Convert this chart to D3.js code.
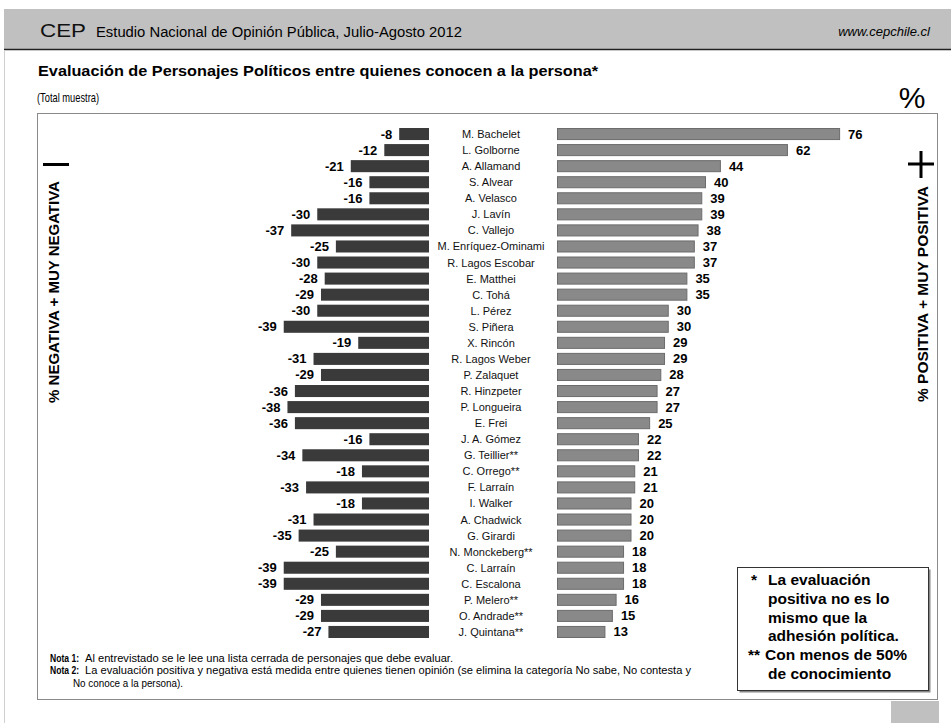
<!DOCTYPE html>
<html>
<head>
<meta charset="utf-8">
<script src="https://cdn.jsdelivr.net/npm/d3@7"></script>
<style>
  body { margin: 0; background: #fff; }
  text { font-family: "Liberation Sans", Arial, sans-serif; }
</style>
</head>
<body>
<div id="chart"></div>
<script>
// data
var names = ["M. Bachelet", "L. Golborne", "A. Allamand", "S. Alvear", "A. Velasco", "J. Lavín",
    "C. Vallejo", "M. Enríquez-Ominami", "R. Lagos Escobar", "E. Matthei", "C. Tohá", "L. Pérez",
    "S. Piñera", "X. Rincón", "R. Lagos Weber", "P. Zalaquet", "R. Hinzpeter", "P. Longueira",
    "E. Frei", "J. A. Gómez", "G. Teillier**", "C. Orrego**", "F. Larraín", "I. Walker",
    "A. Chadwick", "G. Girardi", "N. Monckeberg**", "C. Larraín", "C. Escalona", "P. Melero**",
    "O. Andrade**", "J. Quintana**"];
var negativa = [-8, -12, -21, -16, -16, -30, -37, -25, -30, -28, -29, -30, -39, -19, -31, -29,
    -36, -38, -36, -16, -34, -18, -33, -18, -31, -35, -25, -39, -39, -29, -29, -27];
var positiva = [76, 62, 44, 40, 39, 39, 38, 37, 37, 35, 35, 30, 30, 29, 29, 28, 27, 27, 25, 22,
    22, 21, 21, 20, 20, 20, 18, 18, 18, 16, 15, 13];

var notas = [
    ["Nota 1:", "Al entrevistado se le lee una lista cerrada de personajes que debe evaluar."],
    ["Nota 2:", "La evaluación positiva y negativa está medida entre quienes tienen opinión (se elimina la categoría No sabe, No contesta y"],
    ["", "No conoce a la persona)."]
];
var leyenda = [
    ["*", "La evaluación"], ["", "positiva no es lo"], ["", "mismo que la"],
    ["", "adhesión política."], ["**", "Con menos de 50%"], ["", "de conocimiento"]
];

var width = 951, height = 723;

var data = names.map(function (n, i) {
    return { name: n, neg: negativa[i], pos: positiva[i] };
});

var svg = d3.select("#chart")
    .append("svg")
    .attr("width", width)
    .attr("height", height);

// page frame
svg.append("rect").attr("x", 4).attr("y", 9).attr("width", width - 4).attr("height", 40)
    .attr("fill", "#c0c0c0");
svg.append("line").attr("x1", 4).attr("x2", width).attr("y1", 49.5).attr("y2", 49.5)
    .attr("stroke", "#222").attr("stroke-width", 1.5);
svg.append("line").attr("x1", 4.5).attr("x2", 4.5).attr("y1", 50).attr("y2", height)
    .attr("stroke", "#d0d0d0");
svg.append("rect").attr("x", 891).attr("y", 701).attr("width", 48).attr("height", 22)
    .attr("fill", "#c0c0c0");

// header
svg.append("text").attr("x", 40).attr("y", 37).attr("font-size", 18.5)
    .attr("textLength", 46).attr("lengthAdjust", "spacingAndGlyphs")
    .attr("fill", "#111")
    .text("CEP");
svg.append("text").attr("x", 96).attr("y", 37).attr("font-size", 14)
    .attr("textLength", 366).attr("lengthAdjust", "spacingAndGlyphs")
    .text("Estudio Nacional de Opinión Pública, Julio-Agosto  2012");
svg.append("text").attr("x", 930).attr("y", 36).attr("font-size", 13)
    .attr("text-anchor", "end").attr("font-style", "italic")
    .text("www.cepchile.cl");

// titles
svg.append("text").attr("x", 38).attr("y", 76).attr("font-size", 15.5).attr("font-weight", "bold")
    .attr("textLength", 560).attr("lengthAdjust", "spacingAndGlyphs")
    .text("Evaluación de Personajes Políticos entre quienes conocen a la persona*");
svg.append("text").attr("x", 37).attr("y", 102).attr("font-size", 13.5)
    .attr("textLength", 62).attr("lengthAdjust", "spacingAndGlyphs")
    .text("(Total muestra)");
svg.append("text").attr("x", 912).attr("y", 108).attr("font-size", 30)
    .attr("text-anchor", "middle").text("%");

// chart box
svg.append("rect").attr("x", 37.5).attr("y", 113.5).attr("width", 900).attr("height", 586)
    .attr("fill", "none").attr("stroke", "#8a8a8a");

// scales
var y = d3.scaleBand()
    .domain(names)
    .range([126, 640])
    .paddingInner(0.25)
    .paddingOuter(0.125);

var xNeg = d3.scaleLinear().domain([0, -40]).range([429, 280]);
var xPos = d3.scaleLinear().domain([0, 80]).range([557, 855]);

// negative bars
svg.selectAll(".neg")
    .data(data)
    .enter()
    .append("rect")
    .attr("class", "neg")
    .attr("x", function (d) { return xNeg(d.neg); })
    .attr("y", function (d) { return y(d.name); })
    .attr("width", function (d) { return xNeg(0) - xNeg(d.neg); })
    .attr("height", y.bandwidth())
    .attr("fill", "#3a3a3a");

svg.selectAll(".negLabel")
    .data(data)
    .enter()
    .append("text")
    .attr("x", function (d) { return xNeg(d.neg) - 7; })
    .attr("y", function (d) { return y(d.name) + y.bandwidth() / 2 + 4.5; })
    .attr("text-anchor", "end")
    .attr("font-size", 13)
    .attr("font-weight", "bold")
    .text(function (d) { return d.neg; });

// positive bars
svg.selectAll(".pos")
    .data(data)
    .enter()
    .append("rect")
    .attr("class", "pos")
    .attr("x", xPos(0) + 0.5)
    .attr("y", function (d) { return y(d.name) + 0.5; })
    .attr("width", function (d) { return xPos(d.pos) - xPos(0) - 1; })
    .attr("height", y.bandwidth() - 1)
    .attr("fill", "#898989")
    .attr("stroke", "#6c6c6c");

svg.selectAll(".posLabel")
    .data(data)
    .enter()
    .append("text")
    .attr("x", function (d) { return xPos(d.pos) + 8; })
    .attr("y", function (d) { return y(d.name) + y.bandwidth() / 2 + 4.5; })
    .attr("font-size", 13)
    .attr("font-weight", "bold")
    .text(function (d) { return d.pos; });

// names
svg.selectAll(".name")
    .data(data)
    .enter()
    .append("text")
    .attr("x", 491)
    .attr("y", function (d) { return y(d.name) + y.bandwidth() / 2 + 4; })
    .attr("text-anchor", "middle")
    .attr("font-size", 11)
    .attr("fill", "#111")
    .text(function (d) { return d.name; });

// side labels
svg.append("text")
    .attr("transform", "translate(59,292) rotate(-90)")
    .attr("text-anchor", "middle")
    .attr("font-size", 15)
    .attr("font-weight", "bold")
    .text("% NEGATIVA + MUY NEGATIVA");
svg.append("rect").attr("x", 43).attr("y", 163).attr("width", 26).attr("height", 3).attr("fill", "#000");

svg.append("text")
    .attr("transform", "translate(928,294) rotate(-90)")
    .attr("text-anchor", "middle")
    .attr("font-size", 15.5)
    .attr("font-weight", "bold")
    .text("% POSITIVA + MUY POSITIVA");
svg.append("rect").attr("x", 908).attr("y", 162.5).attr("width", 26).attr("height", 3).attr("fill", "#000");
svg.append("rect").attr("x", 919.5).attr("y", 151).attr("width", 3).attr("height", 27).attr("fill", "#000");

// legend box
svg.append("rect").attr("x", 739.5).attr("y", 569.5).attr("width", 191).attr("height", 123)
    .attr("fill", "#888");
svg.append("rect").attr("x", 737.5).attr("y", 567.5).attr("width", 191).attr("height", 123)
    .attr("fill", "#fff").attr("stroke", "#333");

var leg = svg.selectAll(".leg")
    .data(leyenda)
    .enter()
    .append("g")
    .attr("transform", function (d, i) { return "translate(0," + (585 + i * 18.8) + ")"; });
leg.append("text")
    .attr("x", function (d) { return d[0] == "**" ? 748 : 751; })
    .attr("font-size", 15.5).attr("font-weight", "bold")
    .text(function (d) { return d[0]; });
leg.append("text")
    .attr("x", function (d) { return d[0] == "**" ? 765 : 768; })
    .attr("font-size", 15.5).attr("font-weight", "bold")
    .text(function (d) { return d[1]; });

// notes
var notaLen = [368, 606, 110];
var nota = svg.selectAll(".nota")
    .data(notas)
    .enter()
    .append("g")
    .attr("transform", function (d, i) { return "translate(0," + (662 + i * 12.3) + ")"; });
nota.append("text")
    .attr("x", 50).attr("font-size", 10.5).attr("font-weight", "bold")
    .attr("textLength", function (d) { return d[0] ? 29 : null; })
    .attr("lengthAdjust", "spacingAndGlyphs")
    .text(function (d) { return d[0]; });
nota.append("text")
    .attr("x", function (d, i) { return i == 2 ? 73 : 85; })
    .attr("font-size", 10.5)
    .attr("textLength", function (d, i) { return notaLen[i]; })
    .attr("lengthAdjust", "spacingAndGlyphs")
    .text(function (d) { return d[1]; });
</script>
</body>
</html>
